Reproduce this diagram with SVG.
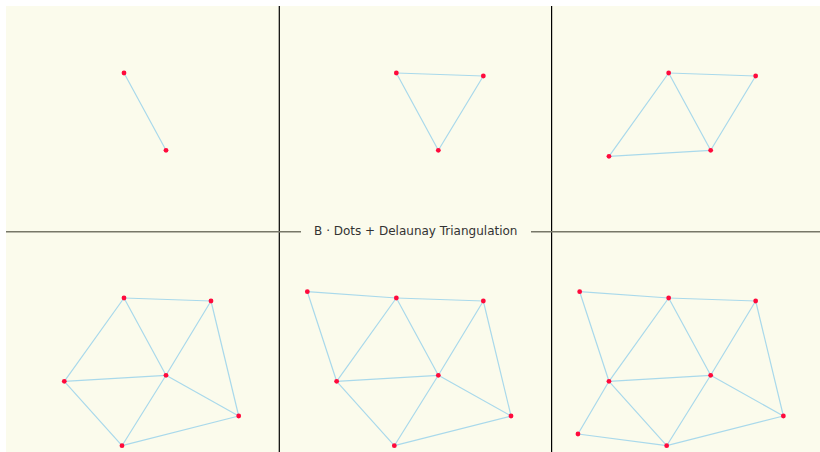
<svg xmlns="http://www.w3.org/2000/svg" width="820" height="452" viewBox="0 0 820 452">
<style>
.bg{fill:#fbfbec}
.e{stroke:#a9d9eb;stroke-width:1.2;fill:none;stroke-linecap:round}
.d{fill:#ff0a3c}
.sep{stroke:#000;stroke-width:1.2}
.hl{stroke:#777768;stroke-width:1.6}
.t{font-family:"DejaVu Sans",Verdana,sans-serif;font-size:12px;fill:#333;text-anchor:middle}
</style>
<defs>
<circle id="dot" r="2.4" class="d"/>
</defs>
<rect class="bg" x="6" y="6" width="814" height="446"/>
<g id="dividers">
<line class="sep" x1="279.3" y1="6" x2="279.3" y2="452"/>
<line class="sep" x1="551.6" y1="6" x2="551.6" y2="452"/>
<line class="hl" x1="6" y1="231.7" x2="820" y2="231.7"/>
</g>
<g id="title">
<rect class="bg" x="301" y="222" width="230" height="18"/>
<text class="t" x="415.8" y="235.2">B · Dots + Delaunay Triangulation</text>
</g>

<g id="panel1">
<g id="connectors1">
<line class="e" x1="124" y1="73" x2="166" y2="150.3"/>
</g>
<g id="p1-A"><use href="#dot" x="124" y="73"/></g>
<g id="p1-C"><use href="#dot" x="166" y="150.3"/></g>
</g>

<g id="panel2" transform="translate(272.33,0)">
<g id="connectors2">
<line class="e" x1="124" y1="73" x2="211" y2="76"/>
<line class="e" x1="211" y1="76" x2="166" y2="150.3"/>
<line class="e" x1="166" y1="150.3" x2="124" y2="73"/>
</g>
<g id="p2-A"><use href="#dot" x="124" y="73"/></g>
<g id="p2-B"><use href="#dot" x="211" y="76"/></g>
<g id="p2-C"><use href="#dot" x="166" y="150.3"/></g>
</g>

<g id="panel3" transform="translate(544.67,0)">
<g id="connectors3">
<line class="e" x1="124" y1="73" x2="211" y2="76"/>
<line class="e" x1="211" y1="76" x2="166" y2="150.3"/>
<line class="e" x1="166" y1="150.3" x2="124" y2="73"/>
<line class="e" x1="124" y1="73" x2="64.3" y2="156.3"/>
<line class="e" x1="64.3" y1="156.3" x2="166" y2="150.3"/>
</g>
<g id="p3-A"><use href="#dot" x="124" y="73"/></g>
<g id="p3-B"><use href="#dot" x="211" y="76"/></g>
<g id="p3-C"><use href="#dot" x="166" y="150.3"/></g>
<g id="p3-D"><use href="#dot" x="64.3" y="156.3"/></g>
</g>

<g id="panel4" transform="translate(0,225)">
<g id="connectors4">
<line class="e" x1="124" y1="73" x2="211" y2="76"/>
<line class="e" x1="124" y1="73" x2="64.3" y2="156.3"/>
<line class="e" x1="124" y1="73" x2="166" y2="150.3"/>
<line class="e" x1="211" y1="76" x2="166" y2="150.3"/>
<line class="e" x1="211" y1="76" x2="238.7" y2="191"/>
<line class="e" x1="64.3" y1="156.3" x2="166" y2="150.3"/>
<line class="e" x1="64.3" y1="156.3" x2="122" y2="220.7"/>
<line class="e" x1="166" y1="150.3" x2="122" y2="220.7"/>
<line class="e" x1="166" y1="150.3" x2="238.7" y2="191"/>
<line class="e" x1="122" y1="220.7" x2="238.7" y2="191"/>
</g>
<g id="p4-A"><use href="#dot" x="124" y="73"/></g>
<g id="p4-B"><use href="#dot" x="211" y="76"/></g>
<g id="p4-C"><use href="#dot" x="166" y="150.3"/></g>
<g id="p4-D"><use href="#dot" x="64.3" y="156.3"/></g>
<g id="p4-E"><use href="#dot" x="238.7" y="191"/></g>
<g id="p4-F"><use href="#dot" x="122" y="220.7"/></g>
</g>

<g id="panel5" transform="translate(272.33,225)">
<g id="connectors5">
<line class="e" x1="35" y1="66.7" x2="124" y2="73"/>
<line class="e" x1="35" y1="66.7" x2="64.3" y2="156.3"/>
<line class="e" x1="124" y1="73" x2="211" y2="76"/>
<line class="e" x1="124" y1="73" x2="64.3" y2="156.3"/>
<line class="e" x1="124" y1="73" x2="166" y2="150.3"/>
<line class="e" x1="211" y1="76" x2="166" y2="150.3"/>
<line class="e" x1="211" y1="76" x2="238.7" y2="191"/>
<line class="e" x1="64.3" y1="156.3" x2="166" y2="150.3"/>
<line class="e" x1="64.3" y1="156.3" x2="122" y2="220.7"/>
<line class="e" x1="166" y1="150.3" x2="122" y2="220.7"/>
<line class="e" x1="166" y1="150.3" x2="238.7" y2="191"/>
<line class="e" x1="122" y1="220.7" x2="238.7" y2="191"/>
</g>
<g id="p5-G"><use href="#dot" x="35" y="66.7"/></g>
<g id="p5-A"><use href="#dot" x="124" y="73"/></g>
<g id="p5-B"><use href="#dot" x="211" y="76"/></g>
<g id="p5-C"><use href="#dot" x="166" y="150.3"/></g>
<g id="p5-D"><use href="#dot" x="64.3" y="156.3"/></g>
<g id="p5-E"><use href="#dot" x="238.7" y="191"/></g>
<g id="p5-F"><use href="#dot" x="122" y="220.7"/></g>
</g>

<g id="panel6" transform="translate(544.67,225)">
<g id="connectors6">
<line class="e" x1="35" y1="66.7" x2="124" y2="73"/>
<line class="e" x1="35" y1="66.7" x2="64.3" y2="156.3"/>
<line class="e" x1="124" y1="73" x2="211" y2="76"/>
<line class="e" x1="124" y1="73" x2="64.3" y2="156.3"/>
<line class="e" x1="124" y1="73" x2="166" y2="150.3"/>
<line class="e" x1="211" y1="76" x2="166" y2="150.3"/>
<line class="e" x1="211" y1="76" x2="238.7" y2="191"/>
<line class="e" x1="64.3" y1="156.3" x2="166" y2="150.3"/>
<line class="e" x1="64.3" y1="156.3" x2="122" y2="220.7"/>
<line class="e" x1="166" y1="150.3" x2="122" y2="220.7"/>
<line class="e" x1="166" y1="150.3" x2="238.7" y2="191"/>
<line class="e" x1="122" y1="220.7" x2="238.7" y2="191"/>
<line class="e" x1="64.3" y1="156.3" x2="33.3" y2="209"/>
<line class="e" x1="33.3" y1="209" x2="122" y2="220.7"/>
</g>
<g id="p6-G"><use href="#dot" x="35" y="66.7"/></g>
<g id="p6-A"><use href="#dot" x="124" y="73"/></g>
<g id="p6-B"><use href="#dot" x="211" y="76"/></g>
<g id="p6-C"><use href="#dot" x="166" y="150.3"/></g>
<g id="p6-D"><use href="#dot" x="64.3" y="156.3"/></g>
<g id="p6-E"><use href="#dot" x="238.7" y="191"/></g>
<g id="p6-F"><use href="#dot" x="122" y="220.7"/></g>
<g id="p6-H"><use href="#dot" x="33.3" y="209"/></g>
</g>
</svg>
